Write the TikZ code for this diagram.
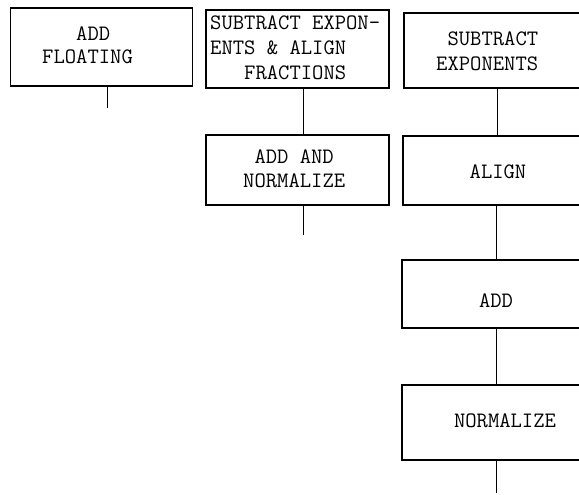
\documentclass[tikz,border=0pt]{standalone}
\begin{document}
\begin{tikzpicture}[x=1pt,y=-1pt,
  box/.style={draw,line width=1.6pt,rectangle,inner sep=0pt},
  txt/.style={inner sep=0pt,font=\fontsize{22}{25}\selectfont\ttfamily},
  link/.style={line width=0.9pt}]
\useasboundingbox (0,0) rectangle (579,495);
\clip (0,0) rectangle (579,495);
% left box
\node[box,minimum width=182pt,minimum height=78pt] (A) at (101.5,47) {};
\node[txt,align=left,anchor=west,font=\fontsize{22}{23}\selectfont\ttfamily] (tA) at (42,45.5) {\phantom{XXX}ADD\\FLOATING};
\coordinate (a2) at (107,108);
\draw[link] (A.south -| a2) -- (a2);
% middle column
\node[box,minimum width=183pt,minimum height=78pt] (B) at (297.5,49) {};
\node[txt,align=left,anchor=west] (tB) at (210,48) {SUBTRACT EXPON-\\ENTS \& ALIGN\\\phantom{XXX}FRACTIONS};
\node[box,minimum width=183pt,minimum height=70pt] (C) at (297.5,170) {};
\node[txt,align=left,anchor=west,font=\fontsize{22}{24}\selectfont\ttfamily] (tC) at (243,168.5) {\phantom{X}ADD AND\\NORMALIZE};
\coordinate (cB) at (303,235);
\draw[link] (B.south -| cB) -- (C.north -| cB);
\draw[link] (C.south -| cB) -- (cB);
% right column
\node[box,minimum width=186pt,minimum height=75pt] (D) at (497,50.5) {};
\node[txt,align=left,anchor=west] (tD) at (436,51) {\phantom{X}SUBTRACT\\EXPONENTS};
\node[box,minimum width=188pt,minimum height=69pt] (E) at (497,170.5) {};
\node[txt] (tE) at (498,172) {ALIGN};
\node[box,minimum width=190pt,minimum height=68pt] (F) at (497,294) {};
\node[txt] (tF) at (496,301) {ADD};
\node[box,minimum width=190pt,minimum height=75pt] (G) at (497,422.5) {};
\node[txt] (tG) at (505,421) {NORMALIZE};
\coordinate (g2) at (496,493);
\draw[link] (D.south) -- (E.north);
\draw[link] (E.south -| g2) -- (F.north -| g2);
\draw[link] (F.south -| g2) -- (G.north -| g2);
\draw[link] (G.south -| g2) -- (g2);
\end{tikzpicture}
\end{document}
